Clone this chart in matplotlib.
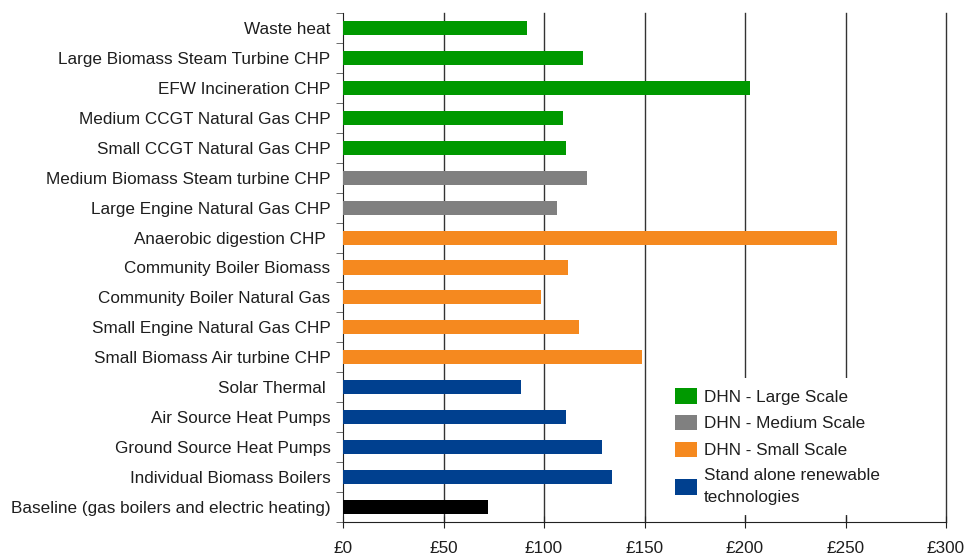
import numpy as np
import matplotlib.pyplot as plt
from matplotlib.patches import Patch

plt.rcParams['font.family'] = ['Liberation Sans', 'DejaVu Sans']

labels = ["Waste heat", "Large Biomass Steam Turbine CHP", "EFW Incineration CHP",
          "Medium CCGT Natural Gas CHP", "Small CCGT Natural Gas CHP",
          "Medium Biomass Steam turbine CHP", "Large Engine Natural Gas CHP",
          "Anaerobic digestion CHP ", "Community Boiler Biomass", "Community Boiler Natural Gas",
          "Small Engine Natural Gas CHP", "Small Biomass Air turbine CHP", "Solar Thermal ",
          "Air Source Heat Pumps", "Ground Source Heat Pumps", "Individual Biomass Boilers",
          "Baseline (gas boilers and electric heating)"]
values = [91.5, 119.3, 202.5, 109.6, 111, 121.5, 106.5, 245.8, 112, 98.5,
          117.5, 149, 88.5, 111, 129, 134, 72]
groups = ["large"] * 5 + ["medium"] * 2 + ["small"] * 5 + ["alone"] * 4 + ["base"]

colors = {"large": "#009900", "medium": "#808080", "small": "#F5891F",
          "alone": "#00408F", "base": "#000000"}
legend_names = {"large": "DHN - Large Scale", "medium": "DHN - Medium Scale",
                "small": "DHN - Small Scale", "alone": "Stand alone renewable\ntechnologies"}

fs = 12.3
txt = "#1e1e1e"

fig = plt.figure(figsize=(9.65, 5.57), dpi=100)
ax = fig.add_axes([343/965, 1 - 522/557, 603/965, 509/557])

y = np.arange(len(labels))[::-1]
ax.barh(y, values, height=0.47, color=[colors[g] for g in groups], zorder=3)

ax.set_xlim(0, 300)
ax.set_ylim(-0.5, len(labels) - 0.5)
ax.set_xticks(np.arange(0, 301, 50))
ax.set_xticklabels(["£%d" % v for v in range(0, 301, 50)], fontsize=fs, color=txt)
ax.set_yticks(y)
ax.set_yticklabels(labels, fontsize=fs, color=txt)
ax.set_yticks(np.arange(-0.5, len(labels), 1), minor=True)
ax.tick_params(axis='y', which='major', length=0, pad=9)
ax.tick_params(axis='y', which='minor', length=5, direction='out', color="#555555")
ax.tick_params(axis='x', length=8, direction='inout', pad=10, color="#222222")

for v in range(50, 301, 50):
    ax.axvline(v, color="#333333", lw=1, zorder=1, clip_on=False)

ax.spines['top'].set_visible(False)
ax.spines['right'].set_visible(False)
ax.spines['left'].set_color("#222222")
ax.spines['bottom'].set_color("#222222")

handles = [Patch(facecolor=colors[k], edgecolor='none') for k in legend_names]
leg = fig.legend(handles, list(legend_names.values()), loc='upper left',
                 bbox_to_anchor=(665/965, 1 - 378/557), frameon=True, fontsize=fs,
                 handlelength=1.26, handleheight=1.0, handletextpad=0.4, labelspacing=0.6,
                 borderaxespad=0, borderpad=0.6)
leg.get_frame().set_facecolor('white')
leg.get_frame().set_edgecolor('none')
leg.get_frame().set_alpha(1)
leg.set_zorder(5)
for t in leg.get_texts():
    t.set_color(txt)
    t.set_linespacing(1.55)

fig.savefig("out.png", dpi=100)
